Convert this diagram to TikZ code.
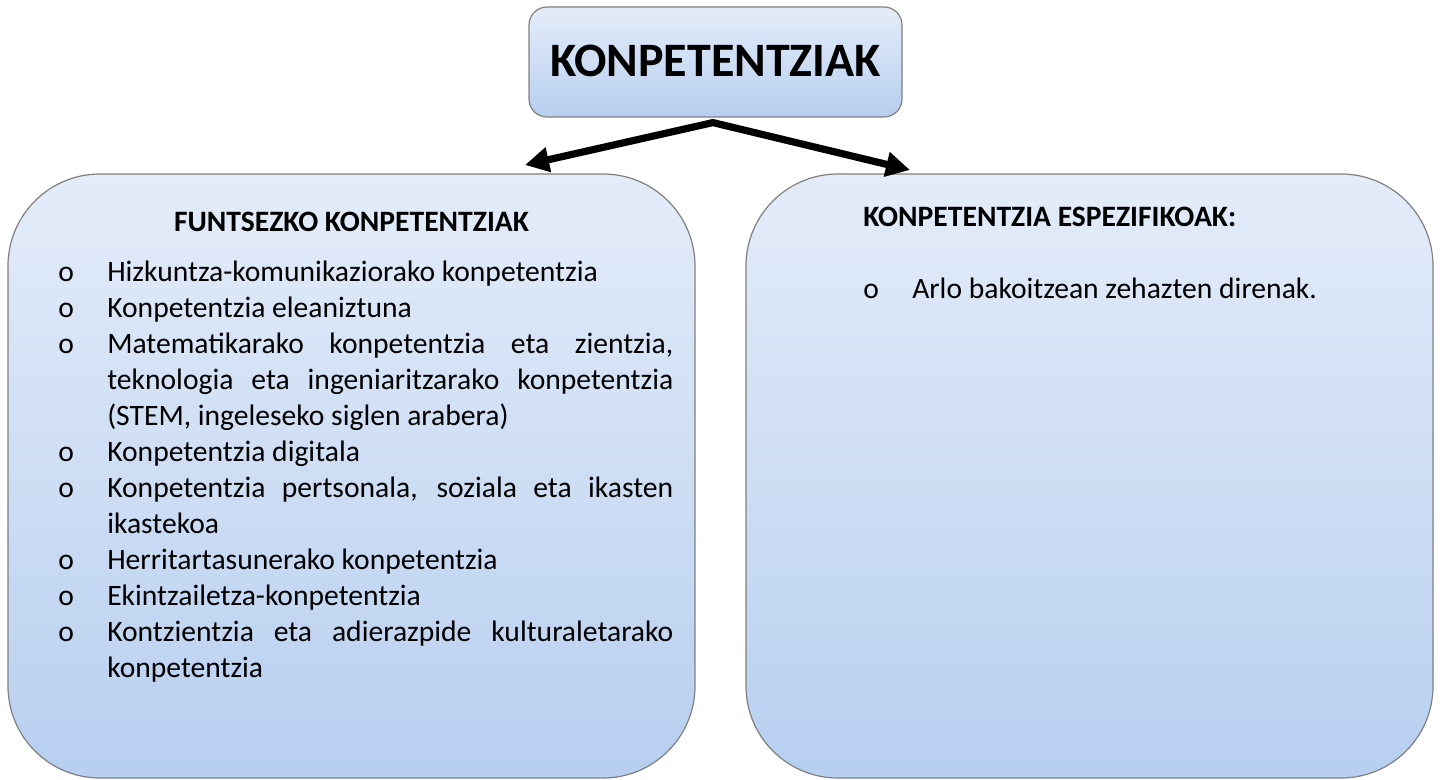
\documentclass[tikz,border=0pt]{standalone}
\usepackage{fontspec}
\setmainfont{Carlito}
\usetikzlibrary{arrows.meta}

\definecolor{boxtop}{RGB}{228,236,249}
\definecolor{boxbot}{RGB}{183,207,240}
\definecolor{boxline}{RGB}{128,128,128}

\tikzset{
  gradbox/.style={draw=boxline, line width=0.9pt, top color=boxtop, bottom color=boxbot, inner sep=0pt},
  bigbox/.style={gradbox, rounded corners=69pt, minimum width=515.25pt, minimum height=453pt},
  bigarrow/.style={line width=5.4pt, line join=miter, {Triangle[length=18pt,width=18pt]}-{Triangle[length=18pt,width=18pt]}},
  bodytext/.style={font=\fontsize{22.2}{27}\selectfont, inner sep=0pt}
}
\newcommand{\kitem}[1]{\hangindent=36.75pt\hangafter=1\noindent\makebox[36.75pt][l]{o}#1\par}

\begin{document}
\begin{tikzpicture}[x=0.75pt,y=-0.75pt]
\useasboundingbox (0,0) rectangle (1442,780);

% Title
\node[gradbox, rounded corners=13.5pt, minimum width=279.75pt, minimum height=82.5pt,
  font=\fontsize{36}{44}\selectfont\bfseries, text depth=2pt] (title) at (715.5,62) {KONPETENTZIAK};

% Boxes
\node[bigbox] (funts) at (351.5,476) {};
\node[bigbox] (espez) at (1089.5,476) {};

% Arrows
\coordinate (fork) at ([xshift=-1.9pt,yshift=-3.75pt]title.south);
\coordinate (ftip) at (525,165);
\coordinate (etip) at (910,170);
\draw[bigarrow] (ftip) -- (fork) -- (etip);

% Left list
\node[bodytext, font=\fontsize{22.2}{27}\selectfont\bfseries, anchor=base] (funtshead) at (351.5,232) {FUNTSEZKO KONPETENTZIAK};
\node[bodytext, anchor=base west, text width=461.25pt, align=justify] (funtslist) at (58,282) {%
  \hyphenpenalty=10000\exhyphenpenalty=10000%
  \kitem{Hizkuntza-komunikaziorako konpetentzia}%
  \kitem{Konpetentzia eleaniztuna}%
  \kitem{Matematikarako konpetentzia eta zientzia,\linebreak teknologia eta ingeniaritzarako konpetentzia\linebreak (STEM, ingeleseko siglen arabera)}%
  \kitem{Konpetentzia digitala}%
  \kitem{Konpetentzia pertsonala, soziala eta ikasten\linebreak ikastekoa}%
  \kitem{Herritartasunerako konpetentzia}%
  \kitem{Ekintzailetza-konpetentzia}%
  \kitem{Kontzientzia eta adierazpide kulturaletarako\linebreak konpetentzia}};

% Right list
\node[bodytext, anchor=base west, text width=400pt, align=flush left] (espezlist) at (863,227) {%
  \textbf{KONPETENTZIA ESPEZIFIKOAK:}\par\vspace{27pt}%
  \kitem{Arlo bakoitzean zehazten direnak.}};
\end{tikzpicture}
\end{document}
